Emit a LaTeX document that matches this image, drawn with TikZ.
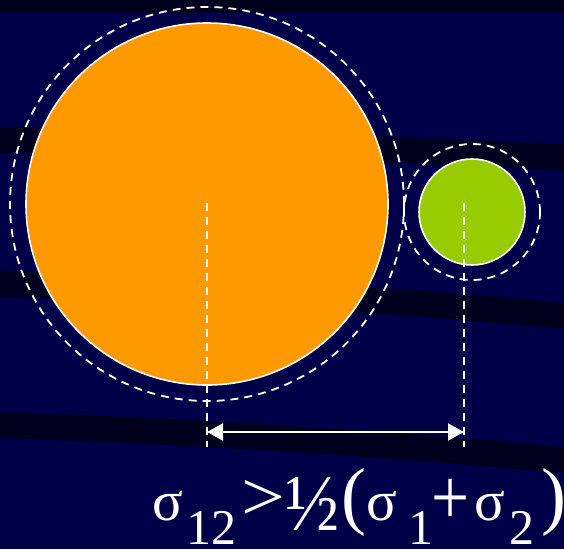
\documentclass[tikz,border=0pt]{standalone}
\usepackage{fontspec}
\setmainfont{Liberation Serif}
\usetikzlibrary{arrows.meta}
\definecolor{navy}{RGB}{0,0,72}
\definecolor{bandc}{RGB}{0,0,30}
\definecolor{orangec}{RGB}{255,153,0}
\definecolor{greenc}{RGB}{153,204,0}
\newcommand\lowr[1]{\raisebox{-24pt}{#1}}
\newcommand\gl[2]{\makebox[#1][l]{#2}}
\newcommand\bigfnt{\fontsize{75}{80}\selectfont}
\newcommand\sig{{\fontsize{57}{60}\selectfont σ}}
\tikzset{
  band/.style={draw=bandc, line width=26pt},
  ball/.style={circle, draw=white, line width=1.6pt, inner sep=0pt, outer sep=0pt},
  dashcirc/.style={draw=white, line width=1.8pt, dash pattern=on 8pt off 6pt},
  guide/.style={draw=white, line width=1.5pt, dash pattern=on 8pt off 6pt},
  dimarrow/.style={draw=white, line width=2pt, {Triangle[length=16pt,width=17pt]}-{Triangle[length=16pt,width=17pt]}},
  formula/.style={text=white, inner sep=0pt, anchor=base west, font=\fontsize{50}{60}\selectfont}
}
\begin{document}
\begin{tikzpicture}[x=1pt,y=-1pt]
\fill[navy] (0,0) rectangle (564,549);
\useasboundingbox (0,0) rectangle (564,549);
% background bands
\fill[bandc] (0,0) rectangle (564,12.5);
\draw[band] (-10,140) .. controls (200,142) and (400,149) .. (574,158);
\draw[band] (-10,284) .. controls (200,288) and (400,300) .. (574,317);
\draw[band] (-10,425) .. controls (200,431) and (400,445) .. (574,461);
% circles
\node[ball, fill=orangec, minimum size=362pt] (big) at (207,204) {};
\node[ball, fill=greenc, minimum size=106pt] (small) at (472,212) {};
\draw[dashcirc] (big.center) circle[radius=197pt];
\draw[dashcirc] (small.center) circle[radius=68pt];
% guides
\coordinate (g1top) at (207,203);
\coordinate (g1bot) at (207,447);
\coordinate (g2top) at (464,203);
\coordinate (g2bot) at (464,447);
\draw[guide] (g1top) -- (g1bot);
\draw[guide] (g2top) -- (g2bot);
\coordinate (a1) at (207,432);
\coordinate (a2) at (464,432);
\draw[dimarrow] (a1) -- (a2);
% formula
\node[formula] (eq) at (152,520) {\gl{34pt}{\sig}\gl{55pt}{\lowr{12}}\gl{46pt}{\scalebox{1.55}[1.4]{>}}\gl{54pt}{\hspace*{-2pt}\raisebox{-10pt}{\resizebox{54pt}{53pt}{½}}}\gl{25pt}{\bigfnt(}\gl{42pt}{\sig}\gl{23pt}{\lowr{1}}\gl{43pt}{\raisebox{-4pt}{\scalebox{1.35}[1.6]{+}}}\gl{35pt}{\sig}\gl{32pt}{\lowr{2}}{\bigfnt)}};
\end{tikzpicture}
\end{document}
